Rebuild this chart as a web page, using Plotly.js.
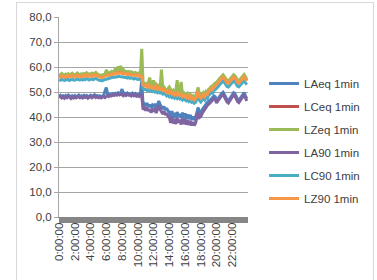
<!DOCTYPE html>
<html>
<head>
<meta charset="utf-8">
<script src="https://cdn.plot.ly/plotly-3.0.1.min.js"></script>
<style>
html,body{margin:0;padding:0;overflow:hidden;background:#fff;}
#chart{position:absolute;left:0;top:0;width:377px;height:280px;}
#frame{position:absolute;left:16px;top:2px;width:356px;height:300px;border:1px solid #d9d9d9;pointer-events:none;}
</style>
</head>
<body>
<div id="chart"></div>
<div id="frame"></div>
<script>
// 10-minute samples over 24 h (index i -> minute i*10)
const tickLabels = ["0:00:00","2:00:00","4:00:00","6:00:00","8:00:00","10:00:00","12:00:00","14:00:00","16:00:00","18:00:00","20:00:00","22:00:00"];
const seriesNames = ["LAeq 1min","LCeq 1min","LZeq 1min","LA90 1min","LC90 1min","LZ90 1min"];
const seriesColors = ["#4F81BD","#C0504D","#9BBB59","#8064A2","#4BACC6","#F79646"];

const LAeq = [
48.3,48.7,48.1,48.5,48.0,48.6, 48.2,48.8,48.4,47.9,48.5,48.1, 48.6,48.1,48.4,48.8,48.2,48.5, 48.1,48.7,48.3,48.6,48.0,48.4,
48.7,48.2,48.5,48.9,48.3,48.6, 48.2,48.5,48.1,48.4,48.7,50.4, 51.8,49.1,48.7,49.2,48.9,49.4, 49.1,49.5,49.2,49.7,49.3,49.6,
51.2,49.0,49.5,49.1,49.6,49.2, 49.3,48.9,49.5,49.0,49.4,48.8, 49.1,48.7,49.3,54.7,44.6,45.2, 44.4,45.6,44.2,45.0,43.8,44.7,
44.0,45.3,43.6,44.8,46.4,45.0, 43.8,43.2,44.2,42.8,43.6,42.4, 42.0,40.2,42.4,39.8,41.6,39.6, 42.0,40.2,41.2,39.6,41.8,39.4,
41.4,39.4,41.0,39.2,40.8,38.8, 40.2,38.8,39.8,42.4,43.8,41.6, 41.8,42.9,43.8,44.4,45.2,45.9, 46.2,46.8,47.3,47.9,48.4,48.1,
46.5,47.3,48.1,48.9,49.5,49.9, 49.1,47.9,46.9,46.5,47.3,48.3, 49.1,49.7,49.3,48.1,47.1,46.7, 47.5,48.5,49.3,49.8,48.5,47.3];

const LCeq = [
56.6,56.3,56.9,56.5,56.2,56.7, 56.4,56.8,56.3,56.6,57.0,56.5, 56.3,56.7,57.1,56.6,56.4,56.8, 56.5,56.9,56.6,57.2,56.7,56.5,
56.8,57.1,56.6,56.9,57.3,56.8, 56.5,56.2,56.3,56.1,56.4,56.6, 56.9,57.1,56.9,57.3,57.5,57.3, 57.6,57.9,57.7,58.1,57.8,58.0,
57.7,57.9,57.5,57.6,57.3,57.5, 57.2,57.4,57.1,56.9,57.2,56.8, 56.7,57.1,56.5,56.3,53.1,52.8, 52.9,52.3,53.1,52.1,52.6,51.9,
52.3,51.7,52.5,51.5,52.1,51.3, 51.6,50.9,51.3,50.5,50.1,50.7, 49.9,50.4,49.5,50.1,49.2,49.8, 49.1,49.7,48.9,49.3,48.5,49.1,
48.7,48.1,48.8,47.9,48.4,47.5, 47.9,47.1,47.6,49.5,50.7,48.3, 47.8,48.7,49.2,48.5,49.7,49.3, 50.5,50.9,51.6,51.3,52.5,52.9,
53.3,53.9,54.6,55.3,55.9,56.3, 55.6,54.7,54.0,53.8,54.5,55.3, 55.9,56.3,55.9,54.9,54.1,53.9, 54.6,55.4,56.1,56.4,55.5,54.7];

const LZeq = [
57.0,56.8,57.4,57.0,56.7,57.2, 56.9,57.3,56.8,57.1,57.5,57.0, 56.8,57.2,57.6,57.1,56.9,57.3, 57.0,57.4,57.1,57.7,57.2,57.0,
57.3,57.6,57.1,57.4,57.8,57.3, 57.0,56.7,56.8,56.6,57.0,57.1, 58.8,57.7,57.5,57.9,58.2,58.0, 58.3,59.6,58.4,60.2,58.6,60.4,
58.4,59.0,58.2,58.3,58.0,58.2, 57.8,58.1,57.7,57.5,57.8,57.4, 57.3,57.7,57.1,67.3,53.8,53.4, 53.5,53.0,53.7,55.8,53.2,52.5,
54.7,52.3,53.1,52.2,52.7,51.9, 59.0,51.5,51.9,51.1,50.7,51.3, 52.0,51.0,50.1,50.7,49.8,50.4, 54.7,49.4,49.3,54.0,49.1,49.7,
49.3,48.7,49.4,48.5,49.0,48.1, 48.5,47.7,48.2,50.1,51.8,48.9, 48.4,49.3,49.8,49.1,50.3,49.9, 51.1,51.5,52.2,51.9,53.1,53.5,
53.9,54.5,55.2,55.9,56.5,56.9, 56.2,55.3,54.6,54.4,55.1,55.9, 56.5,56.9,56.5,55.5,54.7,54.5, 55.2,56.0,56.7,57.0,56.1,55.3];

const LA90 = [
47.8,48.2,47.6,48.0,47.5,48.1, 47.7,48.3,47.9,47.4,48.0,47.6, 48.1,47.6,47.9,48.3,47.7,48.0, 47.6,48.2,47.8,48.1,47.5,47.9,
48.2,47.7,48.0,48.4,47.8,48.1, 47.7,48.0,47.6,47.9,48.2,47.8, 48.3,48.6,48.2,48.7,48.4,48.9, 48.6,49.0,48.7,49.2,48.8,49.1,
48.9,48.5,49.0,48.6,49.1,48.7, 48.8,48.4,49.0,48.5,48.9,48.3, 48.6,48.2,48.8,48.5,43.0,43.6, 42.6,43.8,42.4,43.2,41.8,42.9,
42.2,43.5,41.6,42.8,44.6,43.0, 42.0,41.2,42.4,40.8,41.6,40.2, 39.8,37.6,40.2,37.4,39.2,37.2, 39.6,37.8,38.9,37.0,39.4,37.2,
39.0,37.0,38.8,36.8,38.4,36.6, 38.0,36.6,37.6,40.6,42.0,39.8, 40.2,41.4,42.4,43.0,43.8,44.6, 45.0,45.6,46.2,46.8,47.4,47.0,
45.6,46.4,47.2,48.0,48.6,49.0, 48.2,47.0,46.0,45.6,46.4,47.4, 48.2,48.8,48.4,47.2,46.2,45.8, 46.6,47.6,48.4,48.9,47.6,46.4];

const LC90 = [
54.9,54.7,55.1,54.8,54.6,55.0, 54.8,55.0,54.6,54.9,55.2,54.8, 54.7,55.0,55.3,54.9,54.8,55.1, 54.8,55.2,54.9,55.4,55.0,54.8,
55.1,55.3,54.9,55.2,55.5,55.1, 54.8,54.6,54.7,54.5,54.8,54.9, 55.1,55.4,55.2,55.6,55.8,55.7, 55.9,56.1,56.0,56.3,56.1,56.2,
56.0,56.1,55.8,55.9,55.6,55.8, 55.5,55.7,55.4,55.2,55.5,55.1, 55.0,55.3,54.8,54.6,51.4,51.0, 51.1,50.6,51.3,50.4,50.8,50.2,
50.5,50.0,50.7,49.8,50.3,49.6, 49.8,49.2,49.5,48.8,48.4,48.9, 48.1,48.5,47.8,48.3,47.5,48.0, 47.4,47.9,47.2,47.6,46.8,47.3,
47.0,46.4,47.0,46.2,46.6,45.9, 46.2,45.5,45.9,47.6,48.8,46.6, 46.0,46.9,47.4,46.8,47.9,47.5, 48.7,49.1,49.8,49.5,50.6,51.0,
51.4,52.0,52.7,53.4,54.0,54.4, 53.7,52.9,52.2,52.0,52.7,53.4, 54.0,54.4,54.0,53.1,52.3,52.1, 52.8,53.5,54.2,54.5,53.7,52.9];

const LZ90 = [
56.3,56.0,56.6,56.2,55.9,56.4, 56.1,56.5,56.0,56.3,56.7,56.2, 56.0,56.4,56.8,56.3,56.1,56.5, 56.2,56.6,56.3,56.9,56.4,56.2,
56.5,56.8,56.3,56.6,57.0,56.5, 56.2,55.9,56.0,55.8,56.1,56.3, 56.5,56.8,56.6,57.0,57.2,57.0, 57.3,57.6,57.4,57.8,57.5,57.7,
57.4,57.6,57.2,57.3,57.0,57.2, 56.9,57.1,56.8,56.6,56.9,56.5, 56.4,56.8,56.2,56.0,52.8,52.5, 52.6,52.0,52.8,51.8,52.3,51.6,
52.0,51.4,52.2,51.2,51.8,51.0, 51.3,50.6,51.0,50.2,49.8,50.4, 49.6,50.1,49.2,49.8,48.9,49.5, 48.8,49.4,48.6,49.0,48.2,48.8,
48.4,47.8,48.5,47.6,48.1,47.2, 47.6,46.8,47.3,49.2,50.4,48.0, 47.5,48.4,48.9,48.2,49.4,49.0, 50.2,50.6,51.3,51.0,52.2,52.6,
53.0,53.6,54.3,55.0,55.6,56.0, 55.3,54.4,53.7,53.5,54.2,55.0, 55.6,56.0,55.6,54.6,53.8,53.6, 54.3,55.1,55.8,56.1,55.2,54.4];

const allSeries = [LAeq, LCeq, LZeq, LA90, LC90, LZ90];
const minutes = LAeq.map((_, i) => i * 10);
const tickMinutes = tickLabels.map((_, i) => i * 120);

const FONT = "Liberation Sans, Arial, sans-serif";
const traces = allSeries.map((ys, k) => ({
  type: "scatter", mode: "lines", x: minutes, y: ys, name: seriesNames[k],
  line: {color: seriesColors[k], width: 3}, legendgroup: "g" + k
}));

const layout = {
  width: 377, height: 280,
  margin: {l: 59, r: 116, t: 17, b: 63},
  paper_bgcolor: "#ffffff", plot_bgcolor: "#ffffff",
  separators: ",.",
  font: {family: FONT, size: 11.5, color: "#404040"},
  showlegend: true,
  legend: {x: 1.085, xanchor: "left", y: 0.74, yanchor: "top", font: {family: FONT, size: 11.5, color: "#404040"},
           traceorder: "grouped", tracegroupgap: 4, itemwidth: 30, bgcolor: "rgba(0,0,0,0)"},
  xaxis: {
    type: "linear", range: [-0.5, 1439.5], tickmode: "array", tickvals: tickMinutes, ticktext: tickLabels,
    tickangle: -90, ticks: "", showgrid: false, zeroline: false, showline: true, linecolor: "#868686", linewidth: 1,
    tickfont: {family: FONT, size: 11.5, color: "#404040"},
    minor: {ticks: "outside", ticklen: 5, tickcolor: "#868686", tickwidth: 1, tickmode: "linear", tick0: 0, dtick: 2, showgrid: false}
  },
  yaxis: {
    range: [0, 80], dtick: 10, tickformat: ".1f", showgrid: true, gridcolor: "#a6a6a6", gridwidth: 1,
    zeroline: false, showline: true, linecolor: "#a6a6a6", ticks: "outside", ticklen: 4, tickcolor: "#a6a6a6",
    tickfont: {family: FONT, size: 11.5, color: "#404040"}
  }
};

Plotly.newPlot("chart", traces, layout, {staticPlot: true, displayModeBar: false});
</script>
</body>
</html>
